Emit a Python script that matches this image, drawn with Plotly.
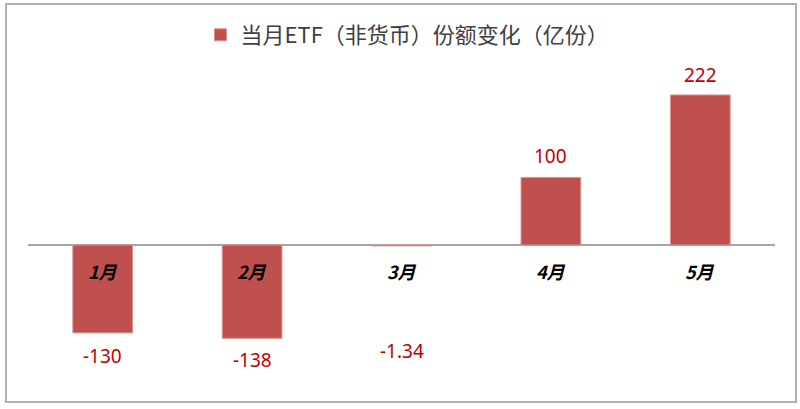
import plotly.graph_objects as go

categories = ["1月", "2月", "3月", "4月", "5月"]
values = [-130, -138, -1.34, 100, 222]
value_labels = ["-130", "-138", "-1.34", "100", "222"]
series_name = "当月ETF（非货币）份额变化（亿份）"

# label offsets in pixels (style only)
label_shift = [-23, -22, -105, 21, 20]

W, H = 800, 409
L, R, T, B = 28, 25, 60, 19
pw, ph = W - L - R, H - T - B

fig = go.Figure()
fig.add_trace(go.Bar(
    x=categories, y=values, name=series_name,
    marker=dict(color="#C0504D", line=dict(color="#D99694", width=1)),
    showlegend=True,
))

for c, v, t, s in zip(categories, values, value_labels, label_shift):
    fig.add_annotation(x=c, y=v, xref="x", yref="y", text=t, showarrow=False,
                       yanchor="middle", yshift=s,
                       font=dict(family="Noto Sans, Noto Sans CJK SC", size=19, color="#C00000"))
    fig.add_annotation(x=c, y=0, xref="x", yref="y", text="<b><i>" + c + "</i></b>",
                       showarrow=False, yanchor="middle", yshift=-26,
                       font=dict(family="Noto Sans CJK SC", size=18, color="#000000"))

# outer border
fig.add_shape(type="rect", xref="paper", yref="paper",
              x0=(6 - L) / pw, x1=(796 - L) / pw,
              y0=(H - B - 402) / ph, y1=(H - B - 4) / ph,
              line=dict(color="#B0B0B0", width=2), fillcolor="rgba(0,0,0,0)")

fig.update_layout(
    width=W, height=H,
    margin=dict(l=L, r=R, t=T, b=B),
    paper_bgcolor="white", plot_bgcolor="white",
    bargap=0.6,
    showlegend=True,
    legend=dict(orientation="h", x=0.5 + 6 / pw, xanchor="center", y=1.0 + 4 / ph,
                yanchor="bottom", yref="paper",
                font=dict(family="Noto Sans CJK SC", size=22, color="#404040"),
                itemwidth=30),
    xaxis=dict(showticklabels=False, showgrid=False, zeroline=False, showline=False,
               ticks=""),
    yaxis=dict(range=[-214.5, 273.7], showticklabels=False, showgrid=False,
               zeroline=True, zerolinecolor="#A6A6A6", zerolinewidth=1.5,
               showline=False, ticks=""),
)

fig.write_html("out.html", config={"displayModeBar": False},
               post_script="document.body.style.margin='0';document.body.style.overflow='hidden';")
